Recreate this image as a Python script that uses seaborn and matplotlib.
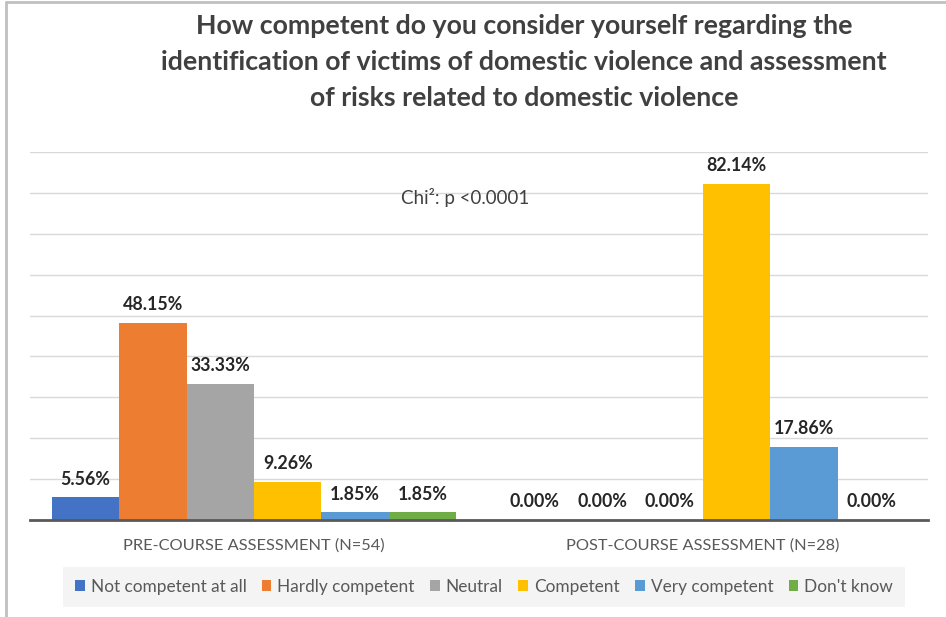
import pandas as pd
import numpy as np
import matplotlib
matplotlib.use("Agg")
import matplotlib.pyplot as plt
from matplotlib.lines import Line2D
from matplotlib.patches import Patch
import seaborn as sns

# data
groups = ["PRE-COURSE ASSESSMENT (N=54)", "POST-COURSE ASSESSMENT (N=28)"]
answers = ["Not competent at all", "Hardly competent", "Neutral",
           "Competent", "Very competent", "Don't know"]
pre_course = [5.56, 48.15, 33.33, 9.26, 1.85, 1.85]
post_course = [0.00, 0.00, 0.00, 82.14, 17.86, 0.00]
colors = ["#4472C4", "#ED7D31", "#A5A5A5", "#FFC000", "#5B9BD5", "#70AD47"]

df = pd.DataFrame({
    "group": [groups[0]] * 6 + [groups[1]] * 6,
    "answer": answers * 2,
    "pct": pre_course + post_course,
})

sns.set_style("white")
plt.rcParams['font.family'] = ['Lato', 'DejaVu Sans']

fig = plt.figure(figsize=(9.46, 6.17), dpi=100)
ax = fig.add_axes([29.5/946, 97/617, 898/946, 368/617])

sns.barplot(data=df, x="group", y="pct", hue="answer", hue_order=answers,
            palette=colors, width=0.9, saturation=1, ax=ax, legend=False,
            edgecolor="none", linewidth=0)

for cont in ax.containers:
    ax.bar_label(cont, fmt="%.2f%%", padding=7, fontsize=12.8,
                 fontweight="bold", color="#262626")

ax.set_ylim(0, 90)
ax.set_xlim(-0.5, 1.5)
ax.set_yticks(np.arange(0, 91, 10))
ax.set_yticklabels([])
ax.yaxis.grid(True, color="#d9d9d9", linewidth=1)
ax.set_axisbelow(True)
for s in ["top", "right", "left"]:
    ax.spines[s].set_visible(False)
ax.spines["bottom"].set_color("#595959")
ax.spines["bottom"].set_linewidth(2)
ax.tick_params(axis="x", length=0, pad=13, labelsize=11.8, labelcolor="#595959")
ax.tick_params(axis="y", length=0)
ax.set_xlabel("")
ax.set_ylabel("")

fig.text(465/946, 1 - 197/617, "Chi²: p <0.0001",
         ha="center", va="center", fontsize=13.5, color="#404040")

fig.text(524/946, 1 - 14/617,
         "How competent do you consider yourself regarding the\n"
         "identification of victims of domestic violence and assessment\n"
         "of risks related to domestic violence",
         ha="center", va="top", fontsize=19.3, fontweight="bold",
         color="#404040", linespacing=1.6)

handles = [Patch(facecolor=c, edgecolor="none") for c in colors]
leg = fig.legend(handles, answers, loc="center", bbox_to_anchor=(484/946, 1 - 587/617),
                 ncol=6, frameon=True, fontsize=12.4, handlelength=0.55, handleheight=0.6,
                 handletextpad=0.35, columnspacing=0.9, borderpad=0.7,
                 labelcolor="#595959")
leg.get_frame().set_facecolor("#f2f2f2")
leg.get_frame().set_edgecolor("none")
leg.get_frame().set_boxstyle("square", pad=0)

# outer border (top and left only visible)
fig.add_artist(Line2D([5.5/946, 5.5/946], [0, 1 - 1.5/617], color="#c0c0c0", lw=2,
                      transform=fig.transFigure))
fig.add_artist(Line2D([5.5/946, 1], [1 - 1.5/617, 1 - 1.5/617], color="#c0c0c0", lw=2,
                      transform=fig.transFigure))

fig.savefig("out.png", dpi=100)
